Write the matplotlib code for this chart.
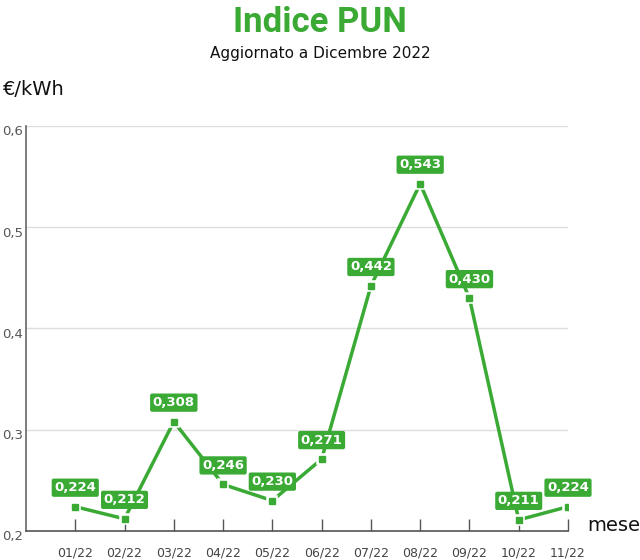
import numpy as np
import matplotlib
matplotlib.use("Agg")
import matplotlib.pyplot as plt

# data
mesi = ["01/22", "02/22", "03/22", "04/22", "05/22", "06/22",
        "07/22", "08/22", "09/22", "10/22", "11/22"]
pun = [0.224, 0.212, 0.308, 0.246, 0.230, 0.271,
       0.442, 0.543, 0.430, 0.211, 0.224]
yticks = [0.2, 0.3, 0.4, 0.5, 0.6]

verde = "#3aaa35"

fig = plt.figure(figsize=(6.4, 5.6), dpi=100)
ax = fig.add_axes([0.0406, 0.0518, 0.8469, 0.7232])

x = np.arange(1, len(mesi) + 1)
ax.plot(x, pun, color=verde, lw=2.5, zorder=3)
# markers with white halo -> gap between line and point
ax.plot(x, pun, ls="none", marker="s", ms=5, color=verde,
        markeredgecolor="white", markeredgewidth=4, zorder=4)
ax.plot(x, pun, ls="none", marker="s", ms=5, color=verde, zorder=5)

for xi, v in zip(x, pun):
    ax.annotate(f"{v:.3f}".replace(".", ","), (xi, v), xytext=(0, 19),
                textcoords="offset pixels", ha="center", va="center",
                color="white", fontsize=9.5, fontweight="bold",
                bbox=dict(boxstyle="round,pad=0.2,rounding_size=0.15",
                          fc=verde, ec="none"), zorder=6)

ax.set_xlim(0, 11)
ax.set_ylim(0.2, 0.6)
ax.set_xticks(x)
ax.set_xticklabels(mesi)
ax.set_yticks(yticks)
ax.set_yticklabels([])
ax.tick_params(axis="x", direction="in", length=9, width=1, color="#555555",
               labelcolor="#444444", labelsize=9, pad=11)
ax.tick_params(axis="y", length=0)
ax.grid(axis="y", color="#dddddd", lw=1)
ax.set_axisbelow(True)
for s in ["top", "right"]:
    ax.spines[s].set_visible(False)
ax.spines["left"].set_color("#666666")
ax.spines["bottom"].set_color("#555555")
ax.spines["left"].set_linewidth(1.2)
ax.spines["bottom"].set_linewidth(1.2)

for v in yticks:
    ax.annotate(f"{v:.1f}".replace(".", ","), (0, v), xycoords=("figure fraction", "data"),
                xytext=(2, -6), textcoords="offset pixels", ha="left", va="center",
                color="#555555", fontsize=9.5)

fig.text(0.5, 0.99, "Indice PUN", ha="center", va="top", color=verde,
         fontsize=25, fontweight="bold", family="Roboto")
fig.text(0.5, 0.905, "Aggiornato a Dicembre 2022", ha="center", va="center",
         fontsize=11, color="#111111")
fig.text(0.004, 0.84, "€/kWh", ha="left", va="center", fontsize=14, color="#111111")
fig.text(0.918, 0.062, "mese", ha="left", va="center", fontsize=14, color="#111111")

fig.savefig("out.png", dpi=100)
